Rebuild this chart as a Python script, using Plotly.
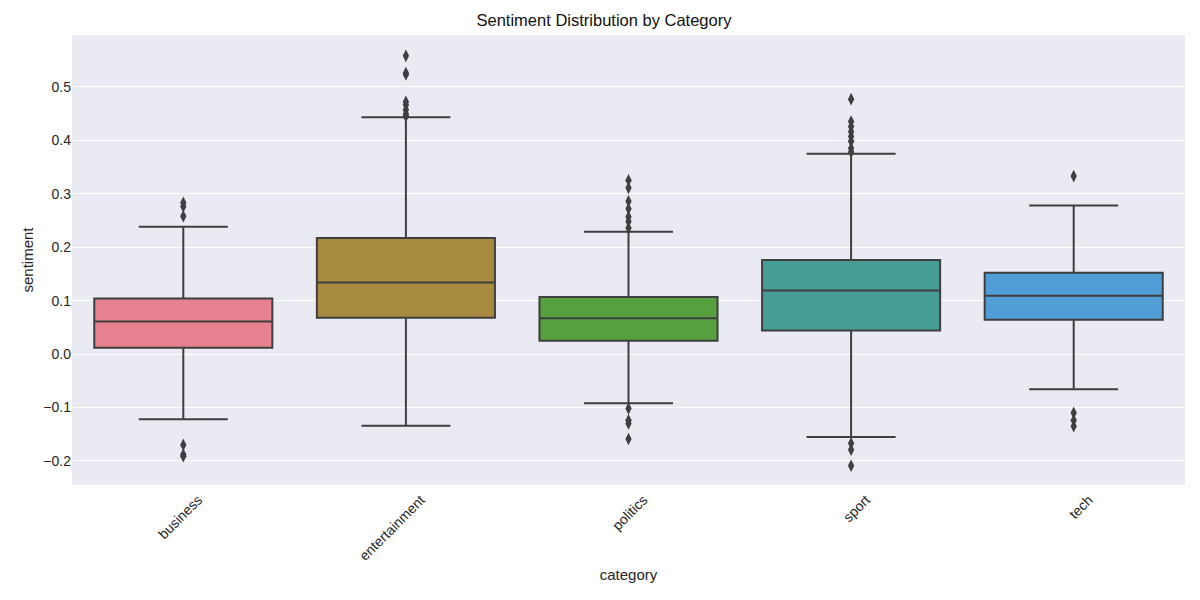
import plotly.graph_objects as go

# box statistics
categories = ["business", "entertainment", "politics", "sport", "tech"]
q1 = [0.012, 0.068, 0.025, 0.044, 0.064]
median = [0.061, 0.134, 0.067, 0.119, 0.109]
q3 = [0.104, 0.217, 0.107, 0.176, 0.152]
lower_whisker = [-0.122, -0.134, -0.092, -0.155, -0.066]
upper_whisker = [0.238, 0.443, 0.229, 0.375, 0.278]

# outliers per category
outliers = {
    "business": [0.283, 0.276, 0.258, -0.170, -0.188, -0.191],
    "entertainment": [0.558, 0.526, 0.523, 0.472, 0.466, 0.457, 0.449, 0.445],
    "politics": [0.325, 0.311, 0.286, 0.272, 0.257, 0.248, 0.236,
                 -0.102, -0.124, -0.130, -0.159],
    "sport": [0.477, 0.435, 0.426, 0.416, 0.407, 0.398, 0.385, 0.378,
              -0.167, -0.179, -0.209],
    "tech": [0.333, -0.110, -0.124, -0.135],
}

colors = ["#e7808f", "#a78a40", "#56a03d", "#459d96", "#509ed5"]
line_col = "#3f3f3f"

fig = go.Figure()
for i, cat in enumerate(categories):
    fig.add_trace(go.Box(
        x=[cat], q1=[q1[i]], median=[median[i]], q3=[q3[i]],
        lowerfence=[lower_whisker[i]], upperfence=[upper_whisker[i]],
        fillcolor=colors[i], line=dict(color=line_col, width=2),
        width=0.8, whiskerwidth=0.5, boxpoints=False,
        showlegend=False, hoverinfo="skip",
    ))
    fig.add_trace(go.Scatter(
        x=[cat] * len(outliers[cat]), y=outliers[cat], mode="markers",
        marker=dict(symbol="diamond-tall", size=9, color=line_col),
        showlegend=False, hoverinfo="skip",
    ))

# page body adds an 8px offset, so the figure is 8px smaller
fig.update_layout(
    width=1192, height=592,
    margin=dict(l=64, r=15, t=27, b=115),
    paper_bgcolor="white", plot_bgcolor="#eaeaf2",
    font=dict(family="Liberation Sans, Arial, sans-serif", size=14, color="#262626"),
    title=dict(text="Sentiment Distribution by Category", x=0.5, xanchor="center",
               y=0.98, yanchor="middle", font=dict(size=16.5, color="#111111")),
    boxmode="overlay",
)
fig.update_xaxes(
    title=dict(text="category", font=dict(size=15), standoff=6),
    showgrid=False, zeroline=False, showline=False, tickangle=-45,
    range=[-0.5, 4.5], ticks="", ticklabelshift=15, ticklabelstandoff=3,
)
fig.update_yaxes(
    title=dict(text="sentiment", font=dict(size=15), standoff=6),
    range=[-0.245, 0.597], dtick=0.1, tick0=0, tickformat=".1f",
    showgrid=True, gridcolor="white", gridwidth=1,
    zeroline=False, showline=False, ticks="",
)

fig.write_html("out.html")
